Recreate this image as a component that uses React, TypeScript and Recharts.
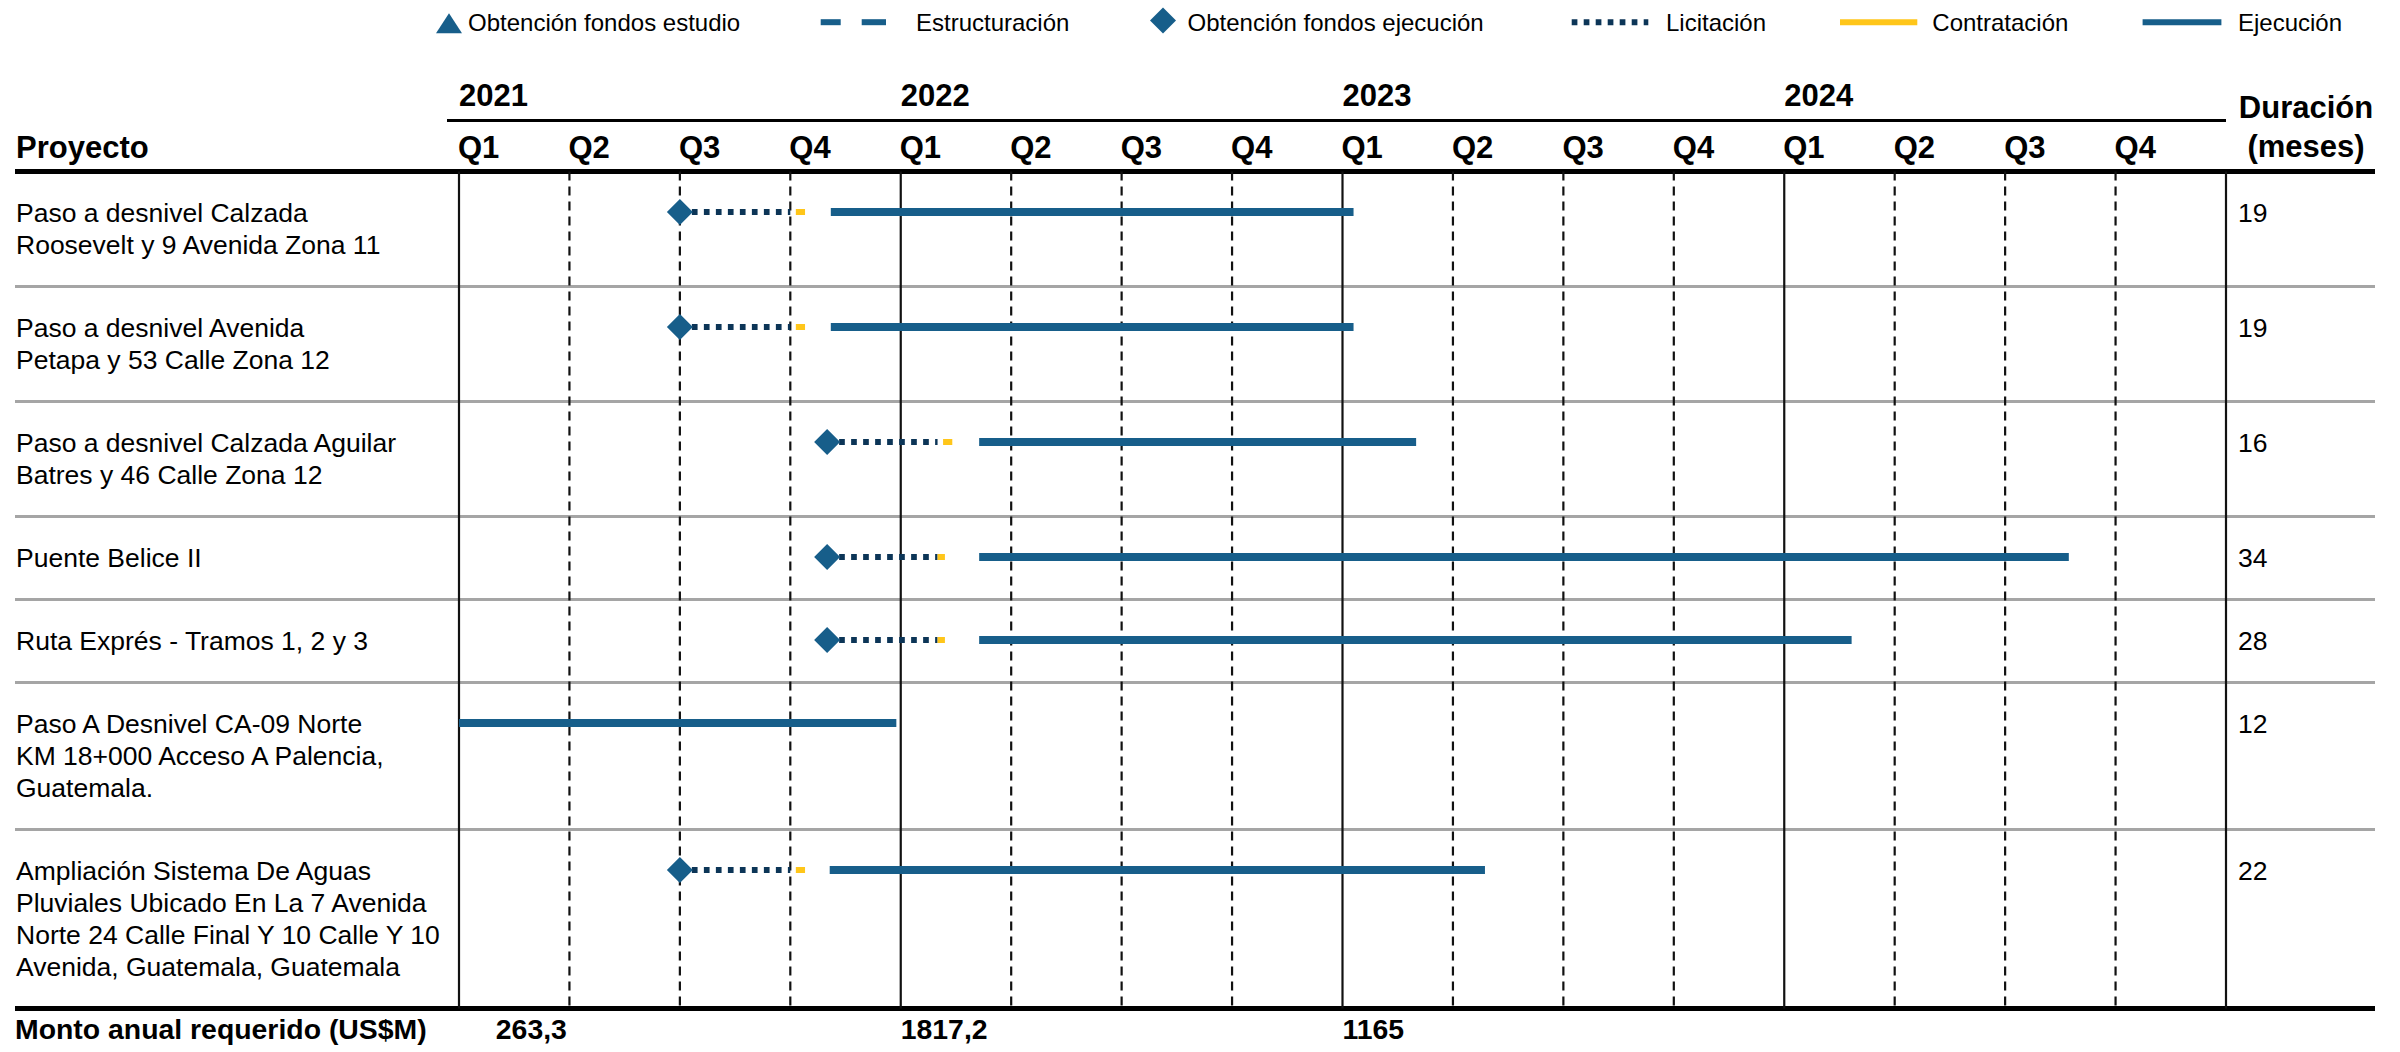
import React from 'react';
import { ComposedChart, Line, Scatter, XAxis, YAxis, ReferenceLine } from 'recharts';

// timeline: months counted from Jan 2021 (0) to Dec 2024 (48)
const QUARTERS = ['Q1', 'Q2', 'Q3', 'Q4'];
const YEARS = ['2021', '2022', '2023', '2024'];
const quarterTicks = [0, 3, 6, 9, 12, 15, 18, 21, 24, 27, 30, 33, 36, 39, 42, 45];
const gridMonths = [0, 3, 6, 9, 12, 15, 18, 21, 24, 27, 30, 33, 36, 39, 42, 45, 48];

const projects = [
  ['Paso a desnivel Calzada', 'Roosevelt y 9 Avenida Zona 11'],
  ['Paso a desnivel Avenida', 'Petapa y 53 Calle Zona 12'],
  ['Paso a desnivel Calzada Aguilar', 'Batres y 46 Calle Zona 12'],
  ['Puente Belice II'],
  ['Ruta Exprés - Tramos 1, 2 y 3'],
  ['Paso A Desnivel CA-09 Norte', 'KM 18+000 Acceso A Palencia,', 'Guatemala.'],
  [
    'Ampliación Sistema De Aguas',
    'Pluviales Ubicado En La 7 Avenida',
    'Norte 24 Calle Final Y 10 Calle Y 10',
    'Avenida, Guatemala, Guatemala',
  ],
];
const durations = [19, 19, 16, 34, 28, 12, 22];

const fundingExec = [6, 6, 10, 10, 10, null, 6];
const tenderEnd = [9, 9, 13, 13, 13, null, 9];
const contractStart = [9.15, 9.15, 13.15, 13.0, 13.0, null, 9.15];
const contractEnd = [9.4, 9.4, 13.4, 13.2, 13.2, null, 9.4];
const execStart = [10.1, 10.1, 14.13, 14.13, 14.13, 0, 10.07];
const execEnd = [24.3, 24.3, 26.0, 43.73, 37.83, 11.88, 27.87];

const amounts = ['263,3', '1817,2', '1165'];
const amountAt = [1, 12, 24];

const FONT = '"Liberation Sans", Arial, Helvetica, sans-serif';
const BLUE = '#175E8A';
const NAVY = '#0C3557';
const YELLOW = '#FFC61A';

const W = 2400;
const H = 1052;
const PLOT_LEFT = 459;
const PLOT_RIGHT = 2226;
const PLOT_TOP = 171.5;
const ROW_PAD = 51;
const LINE_H = 32;
const FOOT_BASE = 1039;

const rowHeights = projects.map((l) => ROW_PAD + LINE_H * l.length);
const rowTops: number[] = [];
rowHeights.reduce((acc, h) => {
  rowTops.push(acc);
  return acc + h;
}, 0);
const totalH = rowHeights.reduce((a, b) => a + b, 0);
const markY = rowTops.map((t) => t + 40.5);
const textY = rowTops.map((t) => t + 50.5);
const PLOT_BOTTOM = PLOT_TOP + totalH;

const segs = (starts: (number | null)[], ends: (number | null)[]) =>
  starts.flatMap((s, i) =>
    s == null
      ? []
      : [
          { x: s, y: markY[i] },
          { x: ends[i], y: markY[i] },
          { x: ends[i], y: null },
        ]
  );

const execData = segs(execStart, execEnd);
const tenderData = segs(fundingExec, tenderEnd);
const contractData = segs(contractStart, contractEnd);
const fundingData = fundingExec.flatMap((m, i) => (m == null ? [] : [{ x: m, y: markY[i] }]));

const Diamond = (props: any) => {
  const { cx, cy } = props;
  const r = 13;
  return <polygon points={`${cx},${cy - r} ${cx + r},${cy} ${cx},${cy + r} ${cx - r},${cy}`} fill={BLUE} />;
};

const QuarterTick = (props: any) => {
  const { x, payload } = props;
  const q = Math.round(payload.value / 3);
  return (
    <g fontFamily={FONT} fontWeight="bold" fontSize={31} fill="#000">
      {q % 4 === 0 && (
        <text x={x} y={106}>
          {YEARS[q / 4]}
        </text>
      )}
      <text x={x - 1} y={158}>
        {QUARTERS[q % 4]}
      </text>
    </g>
  );
};

const ProjectTick = (props: any) => {
  const { y, payload } = props;
  const i = textY.indexOf(payload.value);
  const lines = projects[i] || [];
  return (
    <text x={16} y={y} fontFamily={FONT} fontSize={26.5} fill="#000">
      {lines.map((l, j) => (
        <tspan key={j} x={16} dy={j === 0 ? 0 : LINE_H}>
          {l}
        </tspan>
      ))}
    </text>
  );
};

const DurationTick = (props: any) => {
  const { y, payload } = props;
  const i = textY.indexOf(payload.value);
  return (
    <text x={PLOT_RIGHT + 12} y={y} fontFamily={FONT} fontSize={26.5} fill="#000">
      {durations[i]}
    </text>
  );
};

const amountLabel = (text: string) => (p: any) => {
  const x = p && p.viewBox ? p.viewBox.x : 0;
  return (
    <text x={x} y={FOOT_BASE} fontFamily={FONT} fontWeight="bold" fontSize={28.4} fill="#000">
      {text}
    </text>
  );
};

const Rule = ({ top, left = 15, width = 2360, h, color = '#000' }: any) => (
  <div style={{ position: 'absolute', left, top: top - h / 2, width, height: h, background: color }} />
);

const Legend = () => (
  <svg width={W} height={50} style={{ position: 'absolute', left: 0, top: 0 }} fontFamily={FONT} fontSize={24}>
    <polygon points="436,33.3 462,33.3 449,13.3" fill={BLUE} />
    <text x={468} y={31}>Obtención fondos estudio</text>
    <rect x={820.7} y={19.2} width={20} height={6} fill={BLUE} />
    <rect x={861.7} y={19.2} width={24.3} height={6} fill={BLUE} />
    <text x={916} y={31}>Estructuración</text>
    <polygon points="1163,7.5 1176,20.5 1163,33.5 1150,20.5" fill={BLUE} />
    <text x={1187.5} y={31}>Obtención fondos ejecución</text>
    <line x1={1571.7} x2={1648.3} y1={22.2} y2={22.2} stroke={NAVY} strokeWidth={6} strokeDasharray="5.7 6.3" />
    <text x={1666} y={31}>Licitación</text>
    <line x1={1840} x2={1917.3} y1={22.2} y2={22.2} stroke={YELLOW} strokeWidth={6} />
    <text x={1932.3} y={31}>Contratación</text>
    <line x1={2142.6} x2={2221.4} y1={22.2} y2={22.2} stroke={BLUE} strokeWidth={6} />
    <text x={2238} y={31}>Ejecución</text>
  </svg>
);

export default function App() {
  return (
    <div
      style={{
        position: 'absolute',
        left: 0,
        top: 0,
        width: W,
        height: H,
        background: '#fff',
        fontFamily: FONT,
        overflow: 'hidden',
      }}
    >
      <Legend />
      <Rule top={120} left={447} width={PLOT_RIGHT - 447} h={3} />
      <Rule top={PLOT_TOP} h={4.5} />
      {rowTops.slice(1).map((t, i) => (
        <Rule key={i} top={PLOT_TOP + t} h={2.5} color="#A5A5A5" />
      ))}
      <Rule top={PLOT_BOTTOM} h={4.5} />
      <div style={{ position: 'absolute', left: 0, top: 0 }}>
        <ComposedChart width={W} height={H} margin={{ top: 0, right: 0, bottom: 0, left: 0 }}>
          <XAxis
            dataKey="x"
            type="number"
            orientation="top"
            domain={[0, 48]}
            allowDataOverflow
            ticks={quarterTicks}
            interval={0}
            height={PLOT_TOP}
            axisLine={false}
            tickLine={false}
            tick={QuarterTick}
          />
          <XAxis
            xAxisId="amt"
            type="number"
            orientation="bottom"
            domain={[0, 48]}
            allowDataOverflow
            height={H - PLOT_BOTTOM}
            axisLine={false}
            tickLine={false}
            tick={false}
            label={{
              content: () => (
                <text x={15} y={FOOT_BASE} fontFamily={FONT} fontWeight="bold" fontSize={28.4} fill="#000">
                  Monto anual requerido (US$M)
                </text>
              ),
            }}
          />
          <YAxis
            dataKey="y"
            type="number"
            reversed
            domain={[0, totalH]}
            allowDataOverflow
            ticks={textY}
            interval={0}
            width={PLOT_LEFT}
            axisLine={false}
            tickLine={false}
            tick={ProjectTick}
            label={{
              content: () => (
                <text x={16} y={158} fontFamily={FONT} fontWeight="bold" fontSize={31} fill="#000">
                  Proyecto
                </text>
              ),
            }}
          />
          <YAxis
            yAxisId="dur"
            type="number"
            orientation="right"
            reversed
            domain={[0, totalH]}
            allowDataOverflow
            ticks={textY}
            interval={0}
            width={W - PLOT_RIGHT}
            axisLine={false}
            tickLine={false}
            tick={DurationTick}
            label={{
              content: () => (
                <text fontFamily={FONT} fontWeight="bold" fontSize={31} fill="#000" textAnchor="middle">
                  <tspan x={2306} y={118}>
                    Duración
                  </tspan>
                  <tspan x={2306} y={157}>
                    (meses)
                  </tspan>
                </text>
              ),
            }}
          />
          {gridMonths.map((m) => (
            <ReferenceLine
              key={m}
              x={m}
              stroke="#111"
              strokeWidth={2.2}
              strokeDasharray={m % 12 === 0 ? undefined : '9 6'}
            />
          ))}
          {amountAt.map((m, i) => (
            <ReferenceLine
              key={`amt-${m}`}
              x={m}
              stroke="none"
              strokeWidth={0}
              label={{ content: amountLabel(amounts[i]) }}
            />
          ))}
          <Line
            data={execData}
            dataKey="y"
            stroke={BLUE}
            strokeWidth={8}
            dot={false}
            activeDot={false}
            isAnimationActive={false}
          />
          <Line
            data={tenderData}
            dataKey="y"
            stroke={NAVY}
            strokeWidth={6}
            strokeDasharray="5.7 6.3"
            dot={false}
            activeDot={false}
            isAnimationActive={false}
          />
          <Line
            data={contractData}
            dataKey="y"
            stroke={YELLOW}
            strokeWidth={6}
            dot={false}
            activeDot={false}
            isAnimationActive={false}
          />
          <Scatter data={fundingData} dataKey="y" shape={Diamond} isAnimationActive={false} />
        </ComposedChart>
      </div>
    </div>
  );
}
